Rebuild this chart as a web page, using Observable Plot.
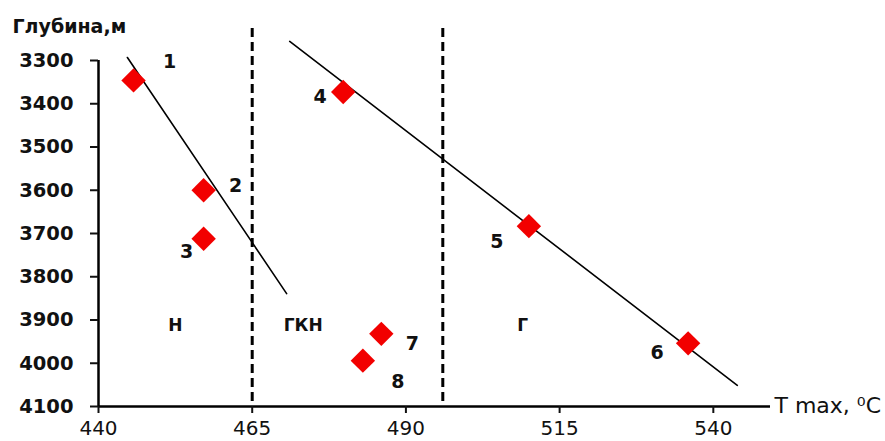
<!DOCTYPE html>
<html><head><meta charset="utf-8">
<script src="https://cdn.jsdelivr.net/npm/d3@7"></script>
<script src="https://cdn.jsdelivr.net/npm/@observablehq/plot@0.6"></script>
<style>body{margin:0;background:#fff} svg{display:block}</style>
</head><body><div id="chart"></div>
<script>
// Data
const sampleIds = ["1", "2", "3", "4", "5", "6", "7", "8"];
const tmax = [445.7, 457.1, 457.1, 479.8, 510.0, 535.9, 486.0, 483.0];
const depth = [3346, 3600, 3712, 3373, 3683, 3954, 3932, 3994];

const zoneNames = ["Н", "ГКН", "Г"];
const zoneX = [452.5, 473.3, 509.0];
const zoneY = [3913, 3913, 3913];

const boundaryT = [465, 496];
const boundaryTop = 3226;

// trend lines (endpoints)
const trend1T = [444.7, 470.6];
const trend1D = [3293, 3839];
const trend2T = [471.1, 543.9];
const trend2D = [3256, 4051];

const xTicks = [440, 465, 490, 515, 540];
const yTicks = [3300, 3400, 3500, 3600, 3700, 3800, 3900, 4000, 4100];

// label offsets (layout)
const labelOffsets = [[36,-18],[32,-4],[-17,13],[-23,5],[-32,16],[-31,10],[31,10],[35,21]];

const points = sampleIds.map((id, i) => ({id, t: tmax[i], d: depth[i]}));
const zones = zoneNames.map((n, i) => ({n, t: zoneX[i], d: zoneY[i]}));
const boundaries = boundaryT.map(t => ({t, y1: boundaryTop, y2: 4100}));
const trend1 = trend1T.map((t, i) => ({t, d: trend1D[i]}));
const trend2 = trend2T.map((t, i) => ({t, d: trend2D[i]}));

const FONT = "DejaVu Sans, Verdana, sans-serif";

const chart = Plot.plot({
  width: 885, height: 441,
  marginLeft: 98, marginRight: 115, marginTop: 60, marginBottom: 35,
  style: {fontFamily: FONT, background: "#fff", color: "#111"},
  x: {domain: [440, 549.3]},
  y: {domain: [3300, 4100], reverse: true},
  marks: [
    Plot.ruleX(boundaries, {x: "t", y1: "y1", y2: "y2", stroke: "#000", strokeWidth: 3, strokeDasharray: "9,5"}),
    Plot.line(trend1, {x: "t", y: "d", stroke: "#000", strokeWidth: 1.6}),
    Plot.line(trend2, {x: "t", y: "d", stroke: "#000", strokeWidth: 1.6}),
    Plot.ruleY([4100], {stroke: "#000", strokeWidth: 2.5}),
    Plot.ruleX([440], {stroke: "#000", strokeWidth: 2.5}),
    Plot.axisX({ticks: xTicks, tickSize: 7, tickPadding: 7, fontSize: 20, label: null, tickFormat: d => String(d), strokeWidth: 2}),
    Plot.axisY({ticks: yTicks, tickSize: 8, tickPadding: 17, fontSize: 19.5, fontWeight: "bold", label: null, tickFormat: d => String(d), strokeWidth: 2}),
    Plot.dot(points, {x: "t", y: "d", symbol: "diamond2", r: 11, fill: "#f20000", stroke: "none"}),
    ...points.map((p, i) => Plot.text([p], {x: "t", y: "d", text: "id", dx: labelOffsets[i][0], dy: labelOffsets[i][1], fontSize: 19, fontWeight: "bold", fill: "#111"})),
    Plot.text(zones, {x: "t", y: "d", text: "n", fontSize: 17, fontWeight: "bold", fill: "#111"}),
    Plot.text(["Глубина,м"], {frameAnchor: "top-left", text: d => d, dx: -86, dy: -34, fontSize: 19, fontWeight: "bold", textAnchor: "start", lineAnchor: "middle", fill: "#111"}),
    Plot.text(["T max, \u2070C"], {frameAnchor: "bottom-right", text: d => d, dx: 4, dy: -1, fontSize: 22, textAnchor: "start", lineAnchor: "middle", fill: "#111"})
  ]
});
document.getElementById("chart").appendChild(chart);
</script>
</body></html>
